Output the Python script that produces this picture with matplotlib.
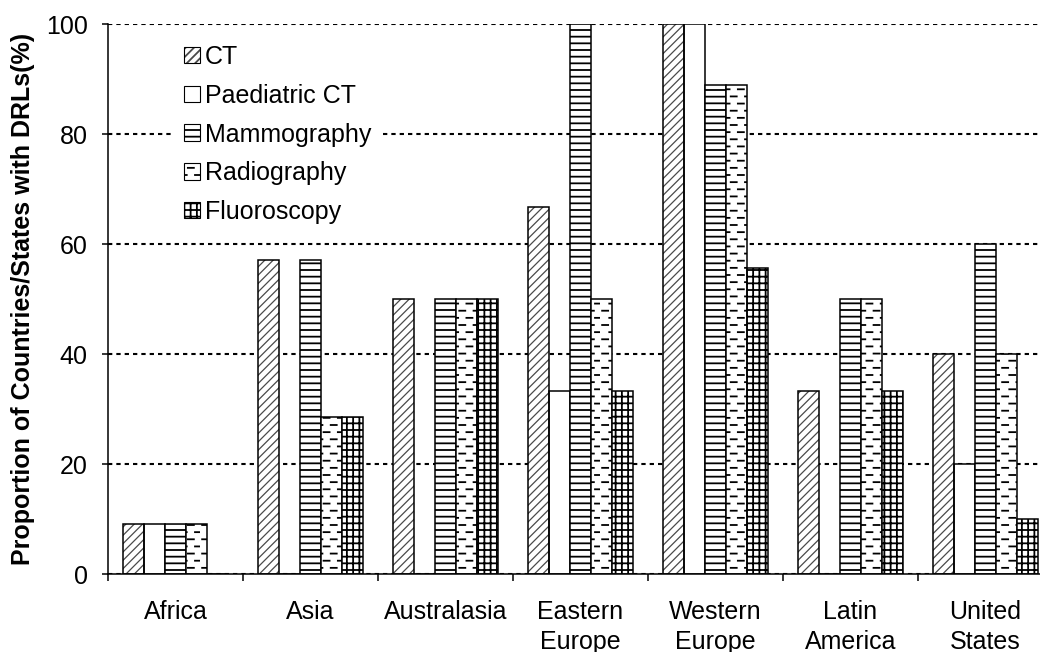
import warnings
import numpy as np
import matplotlib
matplotlib.use("Agg")
import matplotlib.pyplot as plt
import matplotlib.hatch as mhatch
from matplotlib.path import Path
from matplotlib.patches import Patch
from matplotlib.legend_handler import HandlerTuple

warnings.filterwarnings("ignore", message=".*hatch must consist.*")

# ---------------------------------------------------------------- data
regions = ["Africa", "Asia", "Australasia", "Eastern\nEurope",
           "Western\nEurope", "Latin\nAmerica", "United\nStates"]
series = ["CT", "Paediatric CT", "Mammography", "Radiography", "Fluoroscopy"]

ct = [9.09, 57.1, 50.0, 66.7, 100.0, 33.3, 40.0]
paediatric_ct = [9.09, 0.0, 0.0, 33.3, 100.0, 0.0, 20.0]
mammography = [9.09, 57.1, 50.0, 100.0, 88.9, 50.0, 60.0]
radiography = [9.09, 28.6, 50.0, 50.0, 88.9, 50.0, 40.0]
fluoroscopy = [0.0, 28.6, 50.0, 33.3, 55.6, 33.3, 10.0]

yticks = [0, 20, 40, 60, 80, 100]


# ---------------------------------------------------------------- hatches
class RuledHatch(mhatch.HatchPatternBase):
    """'h': fine horizontal rules."""
    def __init__(self, hatch, density):
        self.n = 15 * hatch.count("h")
        self.num_vertices = 2 * self.n

    def set_vertices_and_codes(self, vertices, codes):
        y = (np.arange(self.n) + 0.5) / self.n
        vertices[0::2, 0] = 0.0
        vertices[0::2, 1] = y
        vertices[1::2, 0] = 1.0
        vertices[1::2, 1] = y
        codes[0::2] = Path.MOVETO
        codes[1::2] = Path.LINETO


class GridHatch(mhatch.HatchPatternBase):
    """'g': small square grid."""
    def __init__(self, hatch, density):
        self.nh = 15 * hatch.count("g")
        self.nv = 16 * hatch.count("g")
        self.num_vertices = 2 * (self.nh + self.nv)

    def set_vertices_and_codes(self, vertices, codes):
        y = (np.arange(self.nh) + 0.5) / self.nh
        x = (np.arange(self.nv) + 0.5) / self.nv
        h = 2 * self.nh
        vertices[0:h:2, 0] = 0.0
        vertices[0:h:2, 1] = y
        vertices[1:h:2, 0] = 1.0
        vertices[1:h:2, 1] = y
        vertices[h::2, 0] = x
        vertices[h::2, 1] = 0.0
        vertices[h + 1::2, 0] = x
        vertices[h + 1::2, 1] = 1.0
        codes[0::2] = Path.MOVETO
        codes[1::2] = Path.LINETO


class DashHatch(mhatch.HatchPatternBase):
    """'d': staggered short dashes."""
    rows, per_row, length = 14, 7, 0.06

    def __init__(self, hatch, density):
        self.k = hatch.count("d")
        self.num_vertices = 2 * self.rows * self.per_row * self.k

    def set_vertices_and_codes(self, vertices, codes):
        i = 0
        for r in range(self.rows):
            y = (r + 0.5) / self.rows
            for c in range(self.per_row):
                x0 = (c + 0.5 * (r % 2) + 0.15) / self.per_row
                vertices[i] = (x0, y)
                vertices[i + 1] = (x0 + self.length, y)
                codes[i] = Path.MOVETO
                codes[i + 1] = Path.LINETO
                i += 2


mhatch._hatch_types.extend([RuledHatch, GridHatch, DashHatch])

# ---------------------------------------------------------------- style
plt.rcParams["font.family"] = ["Liberation Sans", "DejaVu Sans"]
plt.rcParams["font.size"] = 18
plt.rcParams["hatch.linewidth"] = 1.3
plt.rcParams["lines.scale_dashes"] = False

fig = plt.figure(figsize=(10.4, 6.52), dpi=100)
ax = fig.add_axes([0.10385, 0.11963, 0.90865, 0.84356])

x = np.arange(len(regions))
width = 0.1556
values = [ct, paediatric_ct, mammography, radiography, fluoroscopy]
hatches = ["////", "", "h", "d", "g"]
ct_hatch_colour = "#4a4a4a"

edge_lw = 1.1
for k, (vals, hatch) in enumerate(zip(values, hatches)):
    pos = x + (k - 2) * width
    if k == 0:
        # grey diagonal fill underneath a black outline
        under = ax.bar(pos, vals, width, color="white",
                       edgecolor=ct_hatch_colour, linewidth=0, hatch=hatch,
                       zorder=3)
        for p in under:
            if hasattr(p, "set_hatch_linewidth"):
                p.set_hatch_linewidth(0.9)
        ax.bar(pos, vals, width, fill=False, edgecolor="black",
               linewidth=edge_lw, zorder=4)
    else:
        ax.bar(pos, vals, width, color="white", edgecolor="black",
               linewidth=edge_lw, hatch=hatch or None, zorder=3)

# ---------------------------------------------------------------- axes
ax.set_xlim(-0.5, len(regions) - 0.5)
ax.set_ylim(0, 100)
ax.set_yticks(yticks)
ax.set_axisbelow(True)
ax.yaxis.grid(True, color="black", linewidth=1.5, linestyle=(0, (3.1, 2.9)))
ax.xaxis.grid(False)

ax.set_xticks(np.arange(len(regions) + 1) - 0.5)
ax.set_xticklabels([])
ax.set_xticks(x, minor=True)
ax.set_xticklabels(regions, minor=True, linespacing=1.3)
ax.tick_params(axis="x", which="major", direction="out", length=5,
               width=1.1)
ax.tick_params(axis="x", which="minor", length=0, pad=19, labelsize=18)
ax.tick_params(axis="y", direction="out", length=4.5, width=1.1, pad=10,
               labelsize=18)

for side in ("top", "right"):
    ax.spines[side].set_visible(False)
for side in ("left", "bottom"):
    ax.spines[side].set_linewidth(1.1)
    ax.spines[side].set_zorder(5)

ax.set_ylabel("Proportion of Countries/States with DRLs(%)",
              fontsize=18, fontweight="bold")
ax.yaxis.set_label_coords(-0.077, 0.5)

# ---------------------------------------------------------------- legend
ct_under = Patch(facecolor="white", edgecolor=ct_hatch_colour, linewidth=0,
                 hatch="////")
ct_edge = Patch(fill=False, edgecolor="black", linewidth=0.8)
handles = [
    (ct_under, ct_edge),
    Patch(facecolor="white", edgecolor="black", linewidth=0.8),
    Patch(facecolor="white", edgecolor="black", linewidth=0.8, hatch="h"),
    Patch(facecolor="white", edgecolor="black", linewidth=0.8, hatch="d"),
    Patch(facecolor="white", edgecolor="black", linewidth=0.8, hatch="g"),
]
leg = ax.legend(handles, series, loc="upper left",
                bbox_to_anchor=(0.07, 0.98), frameon=True,
                facecolor="white", edgecolor="none", framealpha=1,
                fancybox=False, borderpad=0.4, handlelength=0.64,
                handleheight=0.64, handletextpad=0.2, labelspacing=0.59,
                borderaxespad=0, fontsize=18,
                handler_map={tuple: HandlerTuple(ndivide=1)})
leg.set_zorder(6)

fig.savefig("out.png", dpi=100)
